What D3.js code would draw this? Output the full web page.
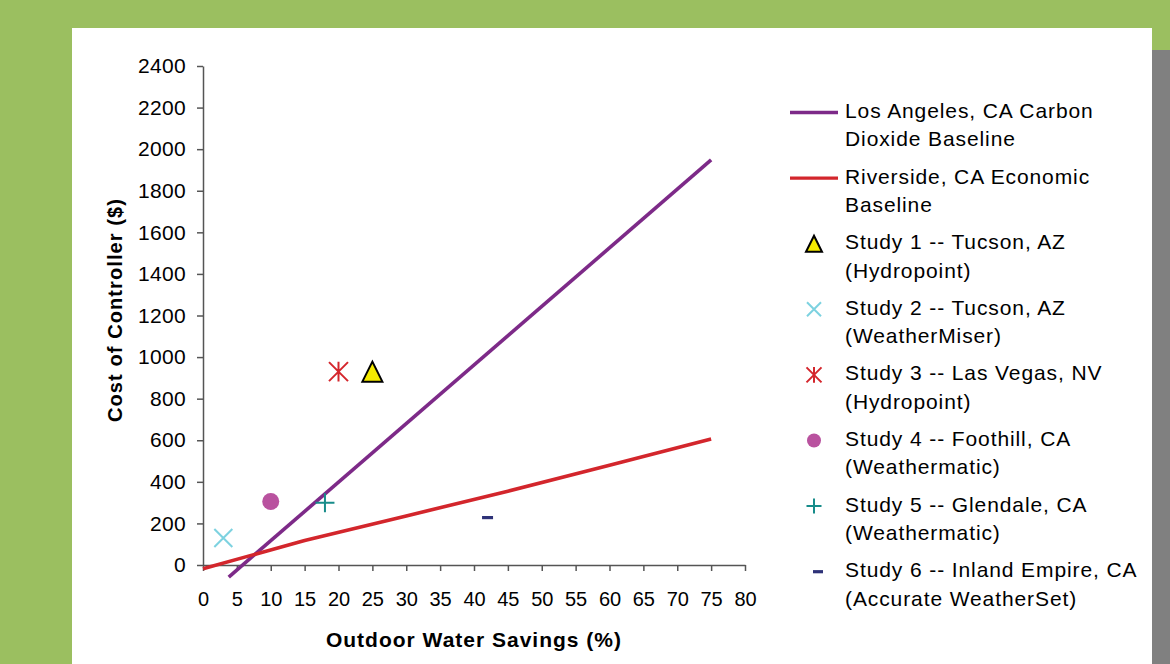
<!DOCTYPE html>
<html>
<head>
<meta charset="utf-8">
<script src="https://cdn.jsdelivr.net/npm/d3@7/dist/d3.min.js"></script>
<style>
  html, body { margin: 0; padding: 0; background: #9bbf60; }
  svg { display: block; font-family: "Liberation Sans", Arial, sans-serif; }
</style>
</head>
<body>
<svg id="chart" width="1170" height="664"></svg>
<script>
// Axis ticks
const xTickValues = [0, 5, 10, 15, 20, 25, 30, 35, 40, 45, 50, 55, 60, 65, 70, 75, 80];
const yTickValues = [0, 200, 400, 600, 800, 1000, 1200, 1400, 1600, 1800, 2000, 2200, 2400];

// Baseline lines (savings %, controller cost $)
const laSavings = [3.8, 75];
const laCost = [-58, 1948];
const riversideSavings = [0, 15, 30, 45, 60, 75];
const riversideCost = [-18, 118, 236, 355, 480, 606];

// Field studies
const studyNames = [
  ["Study 1 -- Tucson, AZ", "(Hydropoint)"],
  ["Study 2 -- Tucson, AZ", "(WeatherMiser)"],
  ["Study 3 -- Las Vegas, NV", "(Hydropoint)"],
  ["Study 4 -- Foothill, CA", "(Weathermatic)"],
  ["Study 5 -- Glendale, CA", "(Weathermatic)"],
  ["Study 6 -- Inland Empire, CA", "(Accurate WeatherSet)"]
];
const studySavings = [25, 3, 20, 10, 18, 42];
const studyCost = [930, 130, 930, 305, 300, 228];
const studyShapes = ["triangle", "x", "asterisk", "circle", "plus", "dash"];
const studyColors = ["#f4ea00", "#7dd2e0", "#d4262c", "#b9529f", "#178c8a", "#2e3278"];

const lineNames = [
  ["Los Angeles, CA Carbon", "Dioxide Baseline"],
  ["Riverside, CA Economic", "Baseline"]
];
const lineColors = ["#7d2a88", "#d3262c"];

const svg = d3.select("#chart");

// Page frame: white panel on green, grey strip at right
svg.append("rect").attr("x", 0).attr("y", 0).attr("width", 1170).attr("height", 664).attr("fill", "#9bbf60");
svg.append("rect").attr("x", 72).attr("y", 28).attr("width", 1080).attr("height", 636).attr("fill", "#ffffff");
svg.append("rect").attr("x", 1152).attr("y", 50).attr("width", 18).attr("height", 614).attr("fill", "#808080");

const x = d3.scaleLinear().domain([0, 80]).range([203, 745]);
const y = d3.scaleLinear().domain([0, 2400]).range([565, 66]);

const axisColor = "#555555";

// Y axis
const gy = svg.append("g").attr("transform", `translate(${x(0)},0)`)
  .call(d3.axisLeft(y).tickValues(yTickValues).tickSize(6).tickSizeOuter(0).tickPadding(11).tickFormat(d3.format("d")));
gy.select(".domain").attr("stroke", axisColor).attr("stroke-width", 1.5);
gy.selectAll(".tick line").attr("stroke", axisColor).attr("stroke-width", 1.5);
gy.selectAll(".tick text").attr("fill", "#000").style("font-size", "21px").style("font-family", "'Liberation Sans', Arial, sans-serif").attr("letter-spacing", "0.3");

// X axis
const gx = svg.append("g").attr("transform", `translate(0,${y(0)})`)
  .call(d3.axisBottom(x).tickValues(xTickValues).tickSize(6).tickSizeOuter(0).tickPadding(21).tickFormat(d3.format("d")));
gx.select(".domain").attr("stroke", axisColor).attr("stroke-width", 1.5);
gx.selectAll(".tick line").attr("stroke", axisColor).attr("stroke-width", 1.5);
gx.selectAll(".tick text").attr("fill", "#000").style("font-size", "20px").style("font-family", "'Liberation Sans', Arial, sans-serif");

// Axis titles
svg.append("text")
  .attr("x", (x(0) + x(80)) / 2).attr("y", 647)
  .attr("text-anchor", "middle")
  .style("font-size", "21px").style("font-weight", "bold").attr("letter-spacing", "1")
  .text("Outdoor Water Savings (%)");
svg.append("text")
  .attr("transform", "translate(122,310) rotate(-90)")
  .attr("text-anchor", "middle")
  .style("font-size", "20px").style("font-weight", "bold").attr("letter-spacing", "1.1")
  .text("Cost of Controller ($)");

// Baseline lines
const line = d3.line().x(d => x(d[0])).y(d => y(d[1]));
const lineSeries = [
  laSavings.map((s, i) => [s, laCost[i]]),
  riversideSavings.map((s, i) => [s, riversideCost[i]])
];
lineSeries.forEach((pts, i) => {
  svg.append("path").datum(pts)
    .attr("d", line)
    .attr("fill", "none")
    .attr("stroke", lineColors[i])
    .attr("stroke-width", 3.6)
    .attr("stroke-linejoin", "round");
});

// Marker drawing, centred at (cx, cy) with size s
function drawMarker(g, shape, color, cx, cy, s) {
  const h = s / 2;
  const m = g.append("g").attr("transform", `translate(${cx},${cy})`);
  if (shape === "triangle") {
    m.append("path")
      .attr("d", `M0,${-h}L${h},${h}L${-h},${h}Z`)
      .attr("fill", color).attr("stroke", "#000").attr("stroke-width", 2).attr("stroke-linejoin", "miter");
  } else if (shape === "x") {
    m.append("path")
      .attr("d", `M${-h},${-h}L${h},${h}M${-h},${h}L${h},${-h}`)
      .attr("stroke", color).attr("stroke-width", 2).attr("fill", "none");
  } else if (shape === "asterisk") {
    m.append("path")
      .attr("d", `M${-h},${-h}L${h},${h}M${-h},${h}L${h},${-h}M0,${-h * 1.05}L0,${h * 1.05}`)
      .attr("stroke", color).attr("stroke-width", 2).attr("fill", "none");
  } else if (shape === "circle") {
    m.append("circle").attr("r", h).attr("fill", color);
  } else if (shape === "plus") {
    m.append("path")
      .attr("d", `M${-h},0L${h},0M0,${-h}L0,${h}`)
      .attr("stroke", color).attr("stroke-width", 2).attr("fill", "none");
  } else if (shape === "dash") {
    m.append("rect").attr("x", -h).attr("y", -1.6).attr("width", s).attr("height", 3.2).attr("fill", color);
  }
}

const plotSizes = { triangle: 20, x: 18, asterisk: 19, circle: 17, plus: 19, dash: 11 };
const legendSizes = { triangle: 16, x: 14, asterisk: 15, circle: 14, plus: 15, dash: 10 };

const pts = svg.append("g");
studySavings.forEach((s, i) => {
  drawMarker(pts, studyShapes[i], studyColors[i], x(s), y(studyCost[i]), plotSizes[studyShapes[i]]);
});

// Legend
const legend = svg.append("g");
const legendTop = 118;
const legendStep = 65.6;
const textX = 845;
const entries = lineNames.map((n, i) => ({ kind: "line", lines: n, color: lineColors[i] }))
  .concat(studyNames.map((n, i) => ({ kind: "marker", lines: n, color: studyColors[i], shape: studyShapes[i] })));

entries.forEach((e, i) => {
  const base = legendTop + i * legendStep;
  const midY = base - 5.5;
  if (e.kind === "line") {
    legend.append("line")
      .attr("x1", 790).attr("x2", 838).attr("y1", midY).attr("y2", midY)
      .attr("stroke", e.color).attr("stroke-width", 3.4);
  } else {
    const mx = e.shape === "dash" ? 818 : 814;
    drawMarker(legend, e.shape, e.color, mx, midY, legendSizes[e.shape]);
  }
  e.lines.forEach((t, j) => {
    legend.append("text")
      .attr("x", textX).attr("y", base + j * 28.4)
      .style("font-size", "21px").attr("letter-spacing", "0.9")
      .attr("fill", "#000")
      .text(t);
  });
});
</script>
</body>
</html>
